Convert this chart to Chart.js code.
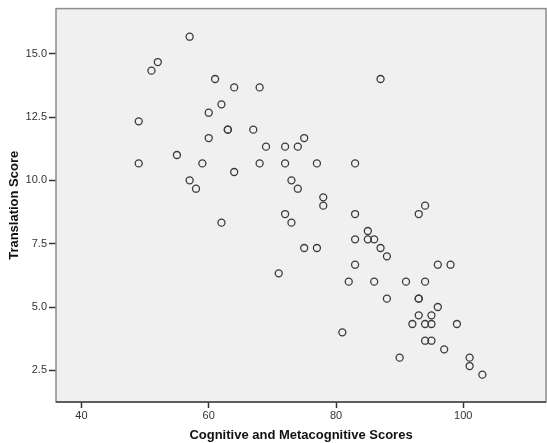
<!DOCTYPE html>
<html>
<head>
<meta charset="utf-8">
<script src="https://cdn.jsdelivr.net/npm/chart.js@4/dist/chart.umd.min.js"></script>
<style>
  body { margin: 0; background: #fff; }
  #wrap { width: 547px; height: 443px; }
</style>
</head>
<body>
<div id="wrap"><canvas id="scatter" width="547" height="443"></canvas></div>
<script>
// cognitive / metacognitive score for each participant
const cogScores = [57, 52, 51, 49, 55, 49, 57, 58, 59, 61, 64, 68, 62, 60, 63, 63, 67, 60,
  75, 69, 72, 74, 68, 72, 77, 83, 64, 73, 74, 78, 78, 72, 73, 62, 83, 85, 83, 85, 86, 87,
  75, 77, 83, 71, 82, 86, 81, 94, 93, 88, 96, 98, 91, 94, 88, 93, 93, 96, 93, 95, 92, 94,
  95, 99, 94, 95, 97, 90, 101, 101, 103, 87];
// translation score, same order
const transScores = [15.67, 14.67, 14.33, 12.33, 11, 10.67, 10, 9.67, 10.67, 14, 13.67, 13.67,
  13, 12.67, 12, 12, 12, 11.67, 11.67, 11.33, 11.33, 11.33, 10.67, 10.67, 10.67, 10.67,
  10.33, 10, 9.67, 9.33, 9, 8.67, 8.33, 8.33, 8.67, 8, 7.67, 7.67, 7.67, 7.33, 7.33, 7.33,
  6.67, 6.33, 6, 6, 4, 9, 8.67, 7, 6.67, 6.67, 6, 6, 5.33, 5.33, 5.33, 5, 4.67, 4.67,
  4.33, 4.33, 4.33, 4.33, 3.67, 3.67, 3.33, 3, 3, 2.67, 2.33, 14];

const xTicks = [40, 60, 80, 100];
const yTicks = [2.5, 5.0, 7.5, 10.0, 12.5, 15.0];

const points = cogScores.map((c, i) => ({ x: c, y: transScores[i] }));

// grey plot panel and frame, SPSS style
const panel = {
  id: "panel",
  beforeDatasetsDraw(chart) {
    const a = chart.chartArea, ctx = chart.ctx;
    ctx.save();
    ctx.fillStyle = "#f0f0f0";
    ctx.fillRect(a.left, a.top, a.right - a.left, a.bottom - a.top);
    ctx.restore();
  },
  afterDraw(chart) {
    const a = chart.chartArea, ctx = chart.ctx;
    ctx.save();
    ctx.strokeStyle = "#8c8c8c";
    ctx.lineWidth = 1.5;
    ctx.strokeRect(a.left, a.top, a.right - a.left, a.bottom - a.top);
    ctx.strokeStyle = "#444";
    ctx.beginPath();
    ctx.moveTo(a.left, a.bottom);
    ctx.lineTo(a.right, a.bottom);
    ctx.stroke();
    ctx.restore();
  }
};

const tickFont = { family: "'Liberation Sans', Arial, sans-serif", size: 11 };
const titleFont = { family: "'Liberation Sans', Arial, sans-serif", size: 13, weight: "bold" };

new Chart(document.getElementById("scatter"), {
  type: "scatter",
  data: {
    datasets: [{
      data: points,
      pointStyle: "circle",
      pointRadius: 3.5,
      pointBorderWidth: 1.3,
      pointBorderColor: "#3a3a3a",
      pointBackgroundColor: "rgba(0,0,0,0)"
    }]
  },
  options: {
    responsive: false,
    animation: false,
    layout: { autoPadding: false, padding: { top: 8, right: 1, left: 0, bottom: 0 } },
    plugins: { legend: { display: false }, tooltip: { enabled: false } },
    scales: {
      x: {
        type: "linear",
        min: 36,
        max: 113,
        afterBuildTicks: s => { s.ticks = xTicks.map(v => ({ value: v })); },
        afterFit: s => { s.height = 41; },
        ticks: { font: tickFont, color: "#333", padding: 1 },
        grid: { drawOnChartArea: false, tickLength: 6, color: "#333", tickWidth: 1.5 },
        border: { display: false },
        title: { display: true, text: "Cognitive and Metacognitive Scores", font: titleFont, color: "#111", padding: 0 }
      },
      y: {
        type: "linear",
        min: 1.25,
        max: 16.78,
        afterBuildTicks: s => { s.ticks = yTicks.map(v => ({ value: v })); },
        afterFit: s => { s.width = 56; },
        ticks: { font: tickFont, color: "#333", padding: 2, callback: v => v.toFixed(1) },
        grid: { drawOnChartArea: false, tickLength: 7, color: "#333", tickWidth: 1.5 },
        border: { display: false },
        title: { display: true, text: "Translation Score", font: titleFont, color: "#111", padding: 7 }
      }
    }
  },
  plugins: [panel]
});
</script>
</body>
</html>
